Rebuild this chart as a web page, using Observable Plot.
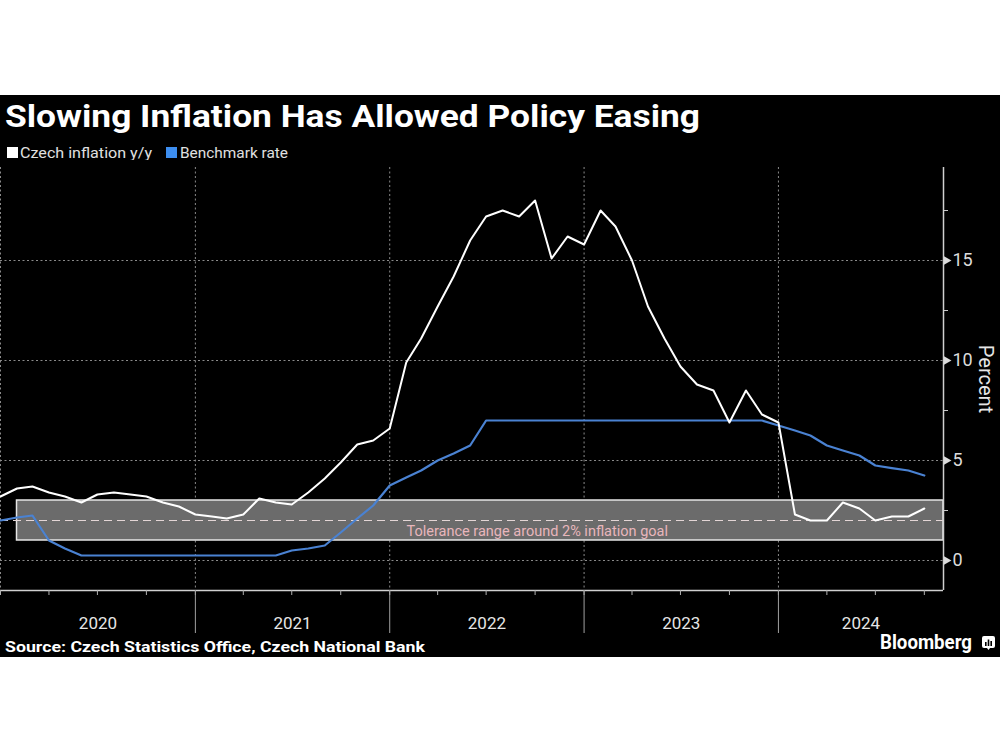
<!DOCTYPE html>
<html>
<head>
<meta charset="utf-8">
<script src="https://cdn.jsdelivr.net/npm/d3@7"></script>
<script src="https://cdn.jsdelivr.net/npm/@observablehq/plot@0.6"></script>
<style>
  html, body { margin: 0; padding: 0; background: #fff; width: 1000px; height: 750px; overflow: hidden; }
  #panel { position: absolute; left: 0; top: 95px; width: 1000px; height: 562px; background: #000; overflow: hidden; }
  #header { position: absolute; left: 0; top: 0; }
  #chart { position: absolute; left: 0; top: 65px; }
  #footer { position: absolute; left: 0; top: 530px; }
  svg text { font-family: Roboto, "Open Sans", sans-serif; }
</style>
</head>
<body>
<div id="panel">
  <svg id="header" width="1000" height="65">
    <text x="5" y="32" fill="#ffffff" font-size="31" font-weight="700" textLength="695" lengthAdjust="spacingAndGlyphs">Slowing Inflation Has Allowed Policy Easing</text>
    <rect x="7" y="52" width="11" height="11" fill="#ffffff"></rect>
    <text x="20" y="62.5" fill="#e0e0e0" font-size="15" textLength="132" lengthAdjust="spacingAndGlyphs">Czech inflation y/y</text>
    <rect x="166" y="52" width="11" height="11" fill="#3d8ef0"></rect>
    <text x="180" y="62.5" fill="#e0e0e0" font-size="15" textLength="108" lengthAdjust="spacingAndGlyphs">Benchmark rate</text>
  </svg>
  <div id="chart"></div>
  <svg id="footer" width="1000" height="32">
    <text x="5" y="27" fill="#ffffff" font-size="15" font-weight="700" textLength="420" lengthAdjust="spacingAndGlyphs">Source: Czech Statistics Office, Czech National Bank</text>
    <text x="880" y="24" fill="#ffffff" font-size="20" font-weight="700" textLength="92" lengthAdjust="spacingAndGlyphs">Bloomberg</text>
    <g transform="translate(982,11)">
      <path d="M2,0 H11 Q13,0 13,2 V10 Q13,12 11,12 H8 L6.5,14 L5,12 H2 Q0,12 0,10 V2 Q0,0 2,0 Z" fill="#ffffff"></path>
      <rect x="3" y="6" width="1.6" height="4" fill="#000"></rect>
      <rect x="5.7" y="3.5" width="1.6" height="6.5" fill="#000"></rect>
      <rect x="8.4" y="5" width="1.6" height="5" fill="#000"></rect>
    </g>
  </svg>
</div>
<script>
// ---- Data (monthly, month-end; first value = Dec 2019, last = Sep 2024) ----
const firstMonthEnd = "2020-01-01";   // end of Dec 2019
const lastMonthEnd = "2024-10-01";    // end of Sep 2024

const inflation = [
  3.2,
  3.6, 3.7, 3.4, 3.2, 2.9, 3.3, 3.4, 3.3, 3.2, 2.9, 2.7, 2.3,
  2.2, 2.1, 2.3, 3.1, 2.9, 2.8, 3.4, 4.1, 4.9, 5.8, 6.0, 6.6,
  9.9, 11.1, 12.7, 14.2, 16.0, 17.2, 17.5, 17.2, 18.0, 15.1, 16.2, 15.8,
  17.5, 16.7, 15.0, 12.7, 11.1, 9.7, 8.8, 8.5, 6.9, 8.5, 7.3, 6.9,
  2.3, 2.0, 2.0, 2.9, 2.6, 2.0, 2.2, 2.2, 2.6
];

const benchmarkRate = [
  2.0,
  2.15, 2.25, 1.0, 0.6, 0.25, 0.25, 0.25, 0.25, 0.25, 0.25, 0.25, 0.25,
  0.25, 0.25, 0.25, 0.25, 0.25, 0.5, 0.6, 0.75, 1.4, 2.1, 2.75, 3.75,
  4.15, 4.5, 5.0, 5.35, 5.75, 7.0, 7.0, 7.0, 7.0, 7.0, 7.0, 7.0,
  7.0, 7.0, 7.0, 7.0, 7.0, 7.0, 7.0, 7.0, 7.0, 7.0, 7.0, 6.75,
  6.5, 6.25, 5.75, 5.5, 5.25, 4.75, 4.62, 4.5, 4.25
];

const yTicks = [0, 5, 10, 15];
const yMinorTicks = [2.5, 7.5, 12.5, 17.5];
const yLabel = "Percent";
const toleranceLow = 1, toleranceHigh = 3, inflationGoal = 2;
const toleranceStart = "2020-02-01";
const toleranceLabel = "Tolerance range around 2% inflation goal";
const toleranceLabelAt = { date: "2022-10-05", value: 1.45 };

const xStart = new Date("2020-01-01");
const xEnd = new Date("2024-11-06");
const yMin = -1.5, yMax = 19.65;

// ---- Build table ----
const dates = d3.utcMonth.range(new Date(firstMonthEnd), d3.utcDay.offset(new Date(lastMonthEnd), 1));
const data = dates.map((d, i) => ({ date: d, inflation: inflation[i], rate: benchmarkRate[i] }));

const yearStarts = d3.utcYear.range(xStart, xEnd);
const quarters = d3.utcMonth.every(3).range(xStart, xEnd);
const yearMids = yearStarts.map(y => {
  const a = Math.max(+y, +xStart), b = Math.min(+d3.utcYear.offset(y, 1), +xEnd);
  return new Date((a + b) / 2);
});

const chart = Plot.plot({
  width: 1000,
  height: 480,
  marginLeft: 0,
  marginRight: 57,
  marginTop: 7,
  marginBottom: 50,
  style: { background: "transparent", color: "#dcdcdc", fontFamily: "Roboto, 'Open Sans', sans-serif", overflow: "visible" },
  x: { type: "utc", domain: [xStart, xEnd] },
  y: { domain: [yMin, yMax] },
  marks: [
    Plot.gridY(yTicks, { stroke: "#8a8a8a", strokeOpacity: 1, strokeDasharray: "2,2.5" }),
    Plot.gridX(yearStarts, { stroke: "#8a8a8a", strokeOpacity: 1, strokeDasharray: "2,2.5" }),
    Plot.rect([{}], {
      x1: () => new Date(toleranceStart), x2: () => xEnd,
      y1: () => toleranceLow, y2: () => toleranceHigh,
      fill: "#6b6b6b", stroke: "#e6e6e6", strokeWidth: 1.5
    }),
    Plot.ruleY([inflationGoal], { stroke: "#e4d6d6", strokeWidth: 1.2, strokeDasharray: "8,5" }),
    Plot.text([toleranceLabel], {
      x: () => new Date(toleranceLabelAt.date), y: () => toleranceLabelAt.value,
      text: d => d, fill: "#e8b6bc", fontSize: 14.5, textAnchor: "middle"
    }),
    Plot.line(data, { x: "date", y: "rate", stroke: "#4a82d2", strokeWidth: 2.2 }),
    Plot.line(data, { x: "date", y: "inflation", stroke: "#ffffff", strokeWidth: 2 }),
    // axis lines
    Plot.ruleY([yMin], { stroke: "#d0d0d0", strokeWidth: 1.5 }),
    Plot.ruleX([xEnd], { stroke: "#d0d0d0", strokeWidth: 1.5 }),
    // x axis: quarter ticks, year separators, year labels
    Plot.axisX(quarters, { tickSize: 5, tickFormat: () => "", stroke: "#b0b0b0", label: null }),
    Plot.axisX(yearStarts.slice(1), { tickSize: 43, tickFormat: () => "", stroke: "#a0a0a0", label: null }),
    Plot.axisX(yearMids, { tickSize: 0, tickPadding: 26, tickFormat: d3.utcFormat("%Y"), fontSize: 17, fill: "#e6e6e6", label: null }),
    // y axis on right
    Plot.axisY(yMinorTicks, { anchor: "right", tickSize: 4, tickFormat: () => "", stroke: "#c8c8c8", label: null }),
    Plot.axisY(yTicks, { anchor: "right", tickSize: 0, tickPadding: 9, fontSize: 18, fill: "#dcdcdc", label: null }),
    Plot.dot(yTicks, { y: d => d, frameAnchor: "right", symbol: "triangle", r: 3.2, rotate: 90, fill: "#dcdcdc", stroke: null, dx: 3 }),
    Plot.text([yLabel], { frameAnchor: "right", text: d => d, rotate: 90, textAnchor: "middle", lineAnchor: "middle", dx: 42, fontSize: 20, fill: "#e6e6e6" })
  ]
});
document.getElementById("chart").appendChild(chart);
</script>
</body>
</html>
